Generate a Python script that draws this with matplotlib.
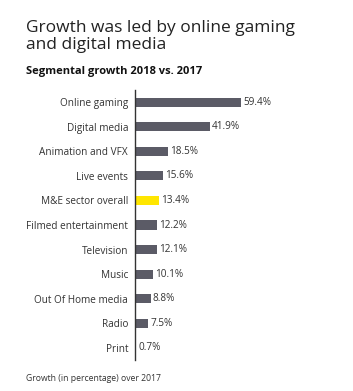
import matplotlib
matplotlib.use("Agg")
import matplotlib.pyplot as plt

categories = ["Online gaming", "Digital media", "Animation and VFX", "Live events",
              "M&E sector overall", "Filmed entertainment", "Television", "Music",
              "Out Of Home media", "Radio", "Print"]
growth = [59.4, 41.9, 18.5, 15.6, 13.4, 12.2, 12.1, 10.1, 8.8, 7.5, 0.7]
highlight = "M&E sector overall"

plt.rcParams["font.family"] = ["Open Sans", "DejaVu Sans"]

fig = plt.figure(figsize=(3.53, 3.91), dpi=100)
ax = fig.add_axes([0.3824, 0.079, 0.506, 0.691])

colors = ["#FFE600" if c == highlight else "#5b5b66" for c in categories]
y = list(range(len(categories)))
ax.barh(y, growth, height=0.37, color=colors)
ax.set_ylim(len(categories) - 0.5, -0.5)
ax.set_xlim(0, 100)

for yi, v in zip(y, growth):
    ax.text(v + 1.2, yi, f"{v}%", va="center", ha="left", fontsize=7.2, color="#333333")

ax.set_yticks(y)
ax.set_yticklabels(categories, fontsize=7.2, color="#333333")
ax.tick_params(axis="y", length=0, pad=5)
ax.set_xticks([])
for s in ["top", "right", "bottom"]:
    ax.spines[s].set_visible(False)
ax.spines["left"].set_color("#333333")
ax.spines["left"].set_linewidth(1.0)

fig.text(0.074, 0.948, "Growth was led by online gaming\nand digital media", fontsize=12.5,
         color="#222222", va="top", ha="left", linespacing=1.05)
fig.text(0.074, 0.818, "Segmental growth 2018 vs. 2017", fontsize=8, fontweight="bold",
         color="#111111", va="center", ha="left")
fig.text(0.074, 0.033, "Growth (in percentage) over 2017", fontsize=6.2, color="#333333",
         va="center", ha="left")

fig.savefig("out.png", dpi=100)
